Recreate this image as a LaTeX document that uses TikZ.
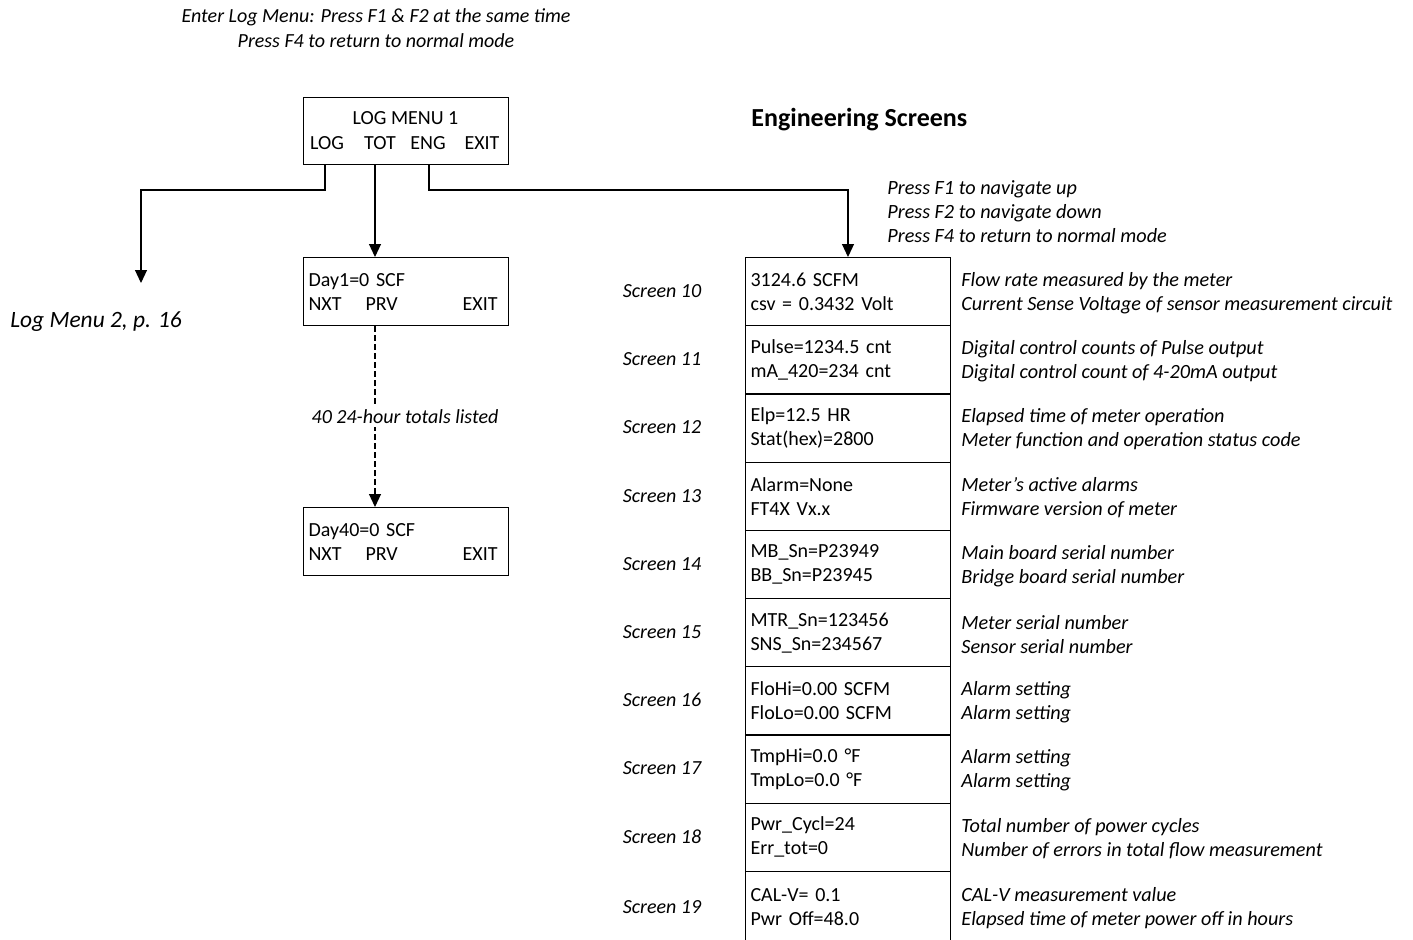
\documentclass[tikz,border=0pt]{standalone}
\usepackage{fontspec}
\setmainfont{Carlito}
\usetikzlibrary{arrows.meta}
\begin{document}
\begin{tikzpicture}[x=0.5pt,y=-0.5pt,
  box/.style={draw, line width=0.55pt, minimum width=102.5pt, minimum height=34.1pt,
    inner xsep=2.5pt, inner ysep=0pt, text width=97.5pt, align=left, anchor=north west,
    font=\fontsize{10}{12}\selectfont},
  scr/.style={font=\fontsize{10}{12}\selectfont\itshape, anchor=center, inner sep=0pt},
  desc/.style={font=\fontsize{10.1}{12}\selectfont\itshape, align=left, anchor=west, inner sep=0pt},
  word/.style={font=\fontsize{10}{12}\selectfont, inner sep=0pt, anchor=center},
  arr/.style={line width=0.55pt, -{Triangle[width=6pt,length=6.5pt]}},
]
\useasboundingbox (0,0) rectangle (1413,939);

% title
\node[font=\fontsize{10}{12.5}\selectfont\itshape, align=center, inner sep=0pt] (title) at (376,28.5)
  {Enter Log Menu: Press F1 \& F2 at the same time\\Press F4 to return to normal mode};

% log menu 1
\node[draw, line width=0.55pt, minimum width=102.5pt, minimum height=33.5pt, anchor=north west, inner sep=0pt] (menu1) at (303,97) {};
\node[word] (m1title) at (405.5,118) {LOG MENU 1};
\node[word] (wlog) at (327,143) {LOG};
\node[word] (wtot) at (380,143) {TOT};
\node[word] (weng) at (428,143) {ENG};
\node[word] (wexit) at (482,143) {EXIT};
\coordinate (cLog) at (325,164);
\coordinate (cTot) at (375,164);
\coordinate (cEng) at (429,164);

% log menu 2 target
\coordinate (logend) at (141,283);
\node[font=\fontsize{11.7}{14}\selectfont\itshape, anchor=west, inner sep=0pt] (lm2) at (10,322) {Log Menu 2, p. 16};
\draw[arr] (cLog) -- (325,190) -- (141,190) -- (logend);

% totals
\node[box] (day1) at (303,257) {Day1=0 SCF\\\makebox[94.5pt][l]{\makebox[28.5pt][l]{NXT}PRV\hfill EXIT}};
\node[box] (day40) at (303,507) {Day40=0 SCF\\\makebox[94.5pt][l]{\makebox[28.5pt][l]{NXT}PRV\hfill EXIT}};
\draw[arr] (cTot) -- (cTot |- day1.north);
\draw[arr, dash pattern=on 3pt off 1.5pt] (day1.south -| cTot) -- (day40.north -| cTot)
  node[pos=0.5, fill=white, inner sep=1.5pt, font=\fontsize{10}{12}\selectfont\itshape] (dlabel) {\hspace{30pt}40 24-hour totals listed};

% engineering screens
\node[font=\fontsize{13}{15}\selectfont\bfseries, anchor=west, inner sep=0pt] (eng) at (751,120) {Engineering Screens};
\node[desc] (press) at (887,212) {Press F1 to navigate up\\Press F2 to navigate down\\Press F4 to return to normal mode};

\def\rh{68.2}
\foreach \i/\n/\a/\b/\da/\db in {
  0/10/{3124.6 SCFM}/{csv = 0.3432 Volt}/{Flow rate measured by the meter}/{Current Sense Voltage of sensor measurement circuit},
  1/11/{Pulse=1234.5 cnt}/{mA\_420=234 cnt}/{Digital control counts of Pulse output}/{Digital control count of 4-20mA output},
  2/12/{Elp=12.5 HR}/{Stat(hex)=2800}/{Elapsed time of meter operation}/{Meter function and operation status code},
  3/13/{Alarm=None}/{FT4X Vx.x}/{Meter’s active alarms}/{Firmware version of meter},
  4/14/{MB\_Sn=P23949}/{BB\_Sn=P23945}/{Main board serial number}/{Bridge board serial number},
  5/15/{MTR\_Sn=123456}/{SNS\_Sn=234567}/{Meter serial number}/{Sensor serial number},
  6/16/{FloHi=0.00 SCFM}/{FloLo=0.00 SCFM}/{Alarm setting}/{Alarm setting},
  7/17/{TmpHi=0.0 °F}/{TmpLo=0.0 °F}/{Alarm setting}/{Alarm setting},
  8/18/{Pwr\_Cycl=24}/{Err\_tot=0}/{Total number of power cycles}/{Number of errors in total flow measurement}}
{
  \node[box] (s\n) at (745,{257+\i*\rh}) {\a\\\b};
  \node[scr] (l\n) at (662,{257+\i*\rh+\rh/2}) {Screen \n};
  \node[desc] (d\n) at (961,{259+\i*\rh+\rh/2}) {\da\\\db};
}
\node[box, minimum height=36pt] (s19) at (745,871) {CAL-V= 0.1\\Pwr Off=48.0};
\node[scr] (l19) at (662,907) {Screen 19};
\node[desc] (d19) at (961,908) {CAL-V measurement value\\Elapsed time of meter power off in hours};
\draw[arr] (cEng) -- (429,190) -- (848,190) -- (s10.north -| 848,0);
\end{tikzpicture}
\end{document}
